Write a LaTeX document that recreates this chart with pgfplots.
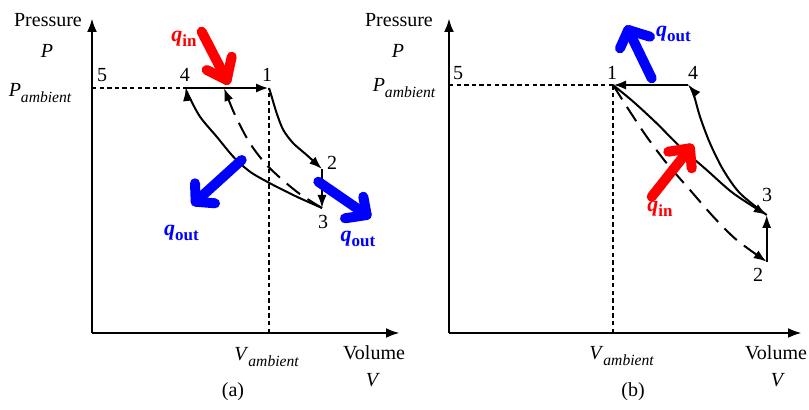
\documentclass[border=0pt]{standalone}
\usepackage{fontspec}
\setmainfont{Liberation Serif}
\usepackage{pgfplots}
\pgfplotsset{compat=1.18}
\usetikzlibrary{arrows.meta}

\definecolor{qred}{RGB}{255,0,0}
\definecolor{qblue}{RGB}{0,0,255}

% heat-flow label q_<sub>
\newcommand{\qlab}[1]{{\fontsize{11}{12}\selectfont\bfseries\itshape q\raisebox{-2.5pt}{\fontsize{8.5}{9}\selectfont\upshape\bfseries #1}}}
% ambient state symbol
\newcommand{\amb}[1]{\textit{#1}\raisebox{-3pt}{\fontsize{7.8}{8}\selectfont\itshape ambient}}

\tikzset{lab/.style={font=\fontsize{10}{12}\selectfont, anchor=base, inner sep=0pt}}
\pgfplotsset{
  pv/.style={
    x=0.5pt, y=0.5pt, xmin=0, ymin=0, ymax=315, enlargelimits=false,
    axis lines=left,
    axis line style={line width=1.4pt, -{Latex[length=7pt,width=5pt]}},
    xtick=\empty, ytick=\empty, clip=false,
  },
  cyc/.style={black, line width=1pt},
  flow/.style={cyc, -{Latex[length=6.5pt,width=4.6pt]}},
  dashflow/.style={flow, dash pattern=on 8.5pt off 4.5pt},
  isobar/.style={black, line width=1.3pt, -{Latex[length=6.5pt,width=4.6pt]}},
  refline/.style={black, line width=1.2pt, dash pattern=on 2.2pt off 1.6pt},
  heat/.style={line width=5pt, line cap=round, line join=round},
}

\begin{document}
\begin{tikzpicture}
\useasboundingbox (0,0) rectangle (404.5pt,-205pt);

% ---------------- (a) ----------------
\begin{axis}[pv, xmax=308, at={(46pt,-166.5pt)}, anchor=south west]
  \addplot[refline] coordinates {(0,245) (94,245)};
  \addplot[refline] coordinates {(177,0) (177,245)};
  % 4 -> 1 at ambient pressure
  \addplot[isobar] coordinates {(94,245) (177,245)};
  % 1 -> 2 expansion
  \addplot[flow, smooth] coordinates {(177,245) (179.7,236.3) (184.7,219.7) (191.3,203) (201.3,189.7) (214.7,178) (230,164)};
  % 2 -> 3
  \addplot[flow] coordinates {(230,164) (230,125)};
  % 3 -> 4 compression
  \addplot[flow, smooth] coordinates {(230,125) (204.7,136.3) (178,149.7) (158,161.3) (141.3,176.3) (124.7,196.3) (108,216.3) (96.3,238) (94,245)};
  % 3 -> 4' compression
  \addplot[dashflow, smooth] coordinates {(230,125) (204.7,141.3) (176.3,166.3) (158,189.7) (143,218) (132,245)};

  % heat flows
  \addplot[heat, qred] coordinates {(109.7,301.3) (134.7,253)};
  \addplot[heat, qred] coordinates {(139.7,276.3) (134.7,253) (114.7,263)};
  \addplot[heat, qblue] coordinates {(149.7,173) (103.7,131.3)};
  \addplot[heat, qblue] coordinates {(103,149.7) (103.7,131.3) (123,129.7)};
  \addplot[heat, qblue] coordinates {(226.3,151.3) (274.7,118)};
  \addplot[heat, qblue] coordinates {(271.3,136.3) (274.7,118) (253,114.7)};

  \node[lab] at (-44,306) {Pressure};
  \node[lab] at (-45,275) {\textit{P}};
  \node[lab] at (-52,236) {\amb{P}};
  \node[lab] at (10,251) {5};
  \node[lab] at (93,251) {4};
  \node[lab] at (175,251) {1};
  \node[lab] at (240,163) {2};
  \node[lab] at (231,104) {3};
  \node[lab] at (174.5,-28) {\amb{V}};
  \node[lab] at (282,-27) {Volume};
  \node[lab] at (281,-54) {\textit{V}};
  \node[lab] at (141,-64) {(a)};
  \node[lab, text=qred] at (92,291) {\qlab{in}};
  \node[lab, text=qblue] at (89.5,97) {\qlab{out}};
  \node[lab, text=qblue] at (266,91) {\qlab{out}};
\end{axis}

% ---------------- (b) ----------------
\begin{axis}[pv, xmax=353, at={(224.5pt,-166.5pt)}, anchor=south west]
  \addplot[refline] coordinates {(0,248) (164,248)};
  \addplot[refline] coordinates {(164,0) (164,248)};
  % 4 -> 1 at ambient pressure
  \addplot[isobar] coordinates {(239.3,248) (164,248)};
  % 1 -> 3 expansion
  \addplot[flow, smooth] coordinates {(164,248) (184.3,231.3) (207.7,209.7) (231,186.3) (257.7,163) (284.3,139.7) (317.7,118)};
  % 1 -> 2 expansion
  \addplot[dashflow, smooth] coordinates {(164,248) (181,221.3) (197.7,196.3) (217.7,169.7) (241,143) (264.3,116.3) (287.7,93) (317.7,71.3)};
  % 2 -> 3
  \addplot[flow] coordinates {(317.7,71.3) (317.7,118)};
  % 3 -> 4 compression
  \addplot[flow, smooth] coordinates {(317.7,118) (291,139.7) (274.3,163) (261,189.7) (251,216.3) (244.3,239.7) (239.3,248)};

  % heat flows
  \addplot[heat, qblue] coordinates {(202.7,254.7) (179.3,303)};
  \addplot[heat, qblue] coordinates {(201,296.3) (179.3,303) (171,284.7)};
  \addplot[heat, qred] coordinates {(202.7,136.3) (241,184.7)};
  \addplot[heat, qred] coordinates {(219.3,181.3) (241,184.7) (242.7,164.7)};

  \node[lab] at (-50,306) {Pressure};
  \node[lab] at (-51,275) {\textit{P}};
  \node[lab] at (-45,241) {\amb{P}};
  \node[lab] at (9,253) {5};
  \node[lab] at (163,253) {1};
  \node[lab] at (244,253) {4};
  \node[lab] at (318,131) {3};
  \node[lab] at (309,51) {2};
  \node[lab] at (172.5,-27) {\amb{V}};
  \node[lab] at (327,-27) {Volume};
  \node[lab] at (329,-54) {\textit{V}};
  \node[lab] at (184,-64) {(b)};
  \node[lab, text=qblue] at (224.5,296) {\qlab{out}};
  \node[lab, text=qred] at (211,121) {\qlab{in}};
\end{axis}
\end{tikzpicture}
\end{document}
